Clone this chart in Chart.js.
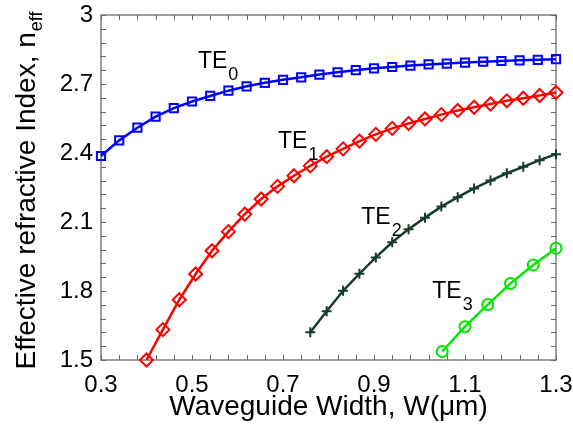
<!DOCTYPE html>
<html lang="en">
<head>
    <meta charset="UTF-8">
    <title>Effective refractive index vs waveguide width</title>
    <script src="https://cdn.jsdelivr.net/npm/chart.js"></script>
    <style>
        html, body { margin: 0; padding: 0; background: #fff; }
        #wrap { width: 573px; height: 441px; position: relative; }
    </style>
</head>
<body>
    <div id="wrap"><canvas id="neffChart" width="573" height="441"></canvas></div>
    <script>
        // values
        const te0W = [0.30, 0.34, 0.38, 0.42, 0.46, 0.50, 0.54, 0.58, 0.62, 0.66, 0.70, 0.74, 0.78,
                      0.82, 0.86, 0.90, 0.94, 0.98, 1.02, 1.06, 1.10, 1.14, 1.18, 1.22, 1.26, 1.30];
        const te0N = [2.387, 2.455, 2.510, 2.558, 2.595, 2.624, 2.648, 2.671, 2.690, 2.705, 2.718, 2.729, 2.741,
                      2.751, 2.760, 2.768, 2.774, 2.780, 2.785, 2.789, 2.793, 2.797, 2.800, 2.803, 2.805, 2.808];

        const te1W = [0.400, 0.436, 0.472, 0.508, 0.544, 0.580, 0.616, 0.652, 0.688, 0.724, 0.760, 0.796, 0.832,
                      0.868, 0.904, 0.940, 0.976, 1.012, 1.048, 1.084, 1.120, 1.156, 1.192, 1.228, 1.264, 1.300];
        const te1N = [1.500, 1.632, 1.762, 1.874, 1.975, 2.058, 2.134, 2.200, 2.255, 2.301, 2.344, 2.384, 2.418,
                      2.452, 2.481, 2.507, 2.528, 2.548, 2.567, 2.585, 2.599, 2.613, 2.627, 2.638, 2.650, 2.663];

        const te2W = [0.760, 0.796, 0.832, 0.868, 0.904, 0.940, 0.976, 1.012, 1.048, 1.084, 1.120, 1.156,
                      1.192, 1.228, 1.264, 1.300];
        const te2N = [1.621, 1.712, 1.801, 1.875, 1.946, 2.012, 2.069, 2.119, 2.167, 2.208, 2.246, 2.280,
                      2.312, 2.340, 2.369, 2.395];

        const te3W = [1.05, 1.10, 1.15, 1.20, 1.25, 1.30];
        const te3N = [1.537, 1.645, 1.741, 1.833, 1.913, 1.986];

        const xTicks = [0.3, 0.5, 0.7, 0.9, 1.1, 1.3];
        const xTickLabels = ['0.3', '0.5', '0.7', '0.9', '1.1', '1.3'];
        const yTicks = [1.5, 1.8, 2.1, 2.4, 2.7, 3.0];
        const yTickLabels = ['1.5', '1.8', '2.1', '2.4', '2.7', '3'];
        const xMinorStep = 0.04;
        const yMinorStep = 0.06;

        const modeLabels = [
            { text: 'TE', sub: '0', x: 0.513, y: 2.768 },
            { text: 'TE', sub: '1', x: 0.689, y: 2.421 },
            { text: 'TE', sub: '2', x: 0.872, y: 2.092 },
            { text: 'TE', sub: '3', x: 1.028, y: 1.771 }
        ];

        const FONT = "'Liberation Sans', Arial, sans-serif";

        function pts(xs, ys) { return xs.map((x, i) => ({ x: x, y: ys[i] })); }

        // frame with inward ticks on all four sides, labels, axis titles
        const framePlugin = {
            id: 'frame',
            beforeDatasetsDraw(chart) {
                const { ctx, chartArea: a, scales: { x, y } } = chart;
                ctx.save();
                ctx.strokeStyle = '#808080';
                ctx.lineWidth = 1.5;
                ctx.strokeRect(a.left, a.top, a.right - a.left, a.bottom - a.top);
                ctx.lineWidth = 1;
                ctx.strokeStyle = '#6a6a6a';
                ctx.beginPath();
                for (let v = x.min; v <= x.max + 1e-9; v += xMinorStep) {
                    const px = Math.round(x.getPixelForValue(v)) + 0.5;
                    ctx.moveTo(px, a.bottom); ctx.lineTo(px, a.bottom - 5);
                    ctx.moveTo(px, a.top); ctx.lineTo(px, a.top + 5);
                }
                for (let v = y.min; v <= y.max + 1e-9; v += yMinorStep) {
                    const py = Math.round(y.getPixelForValue(v)) + 0.5;
                    ctx.moveTo(a.left, py); ctx.lineTo(a.left + 5, py);
                    ctx.moveTo(a.right, py); ctx.lineTo(a.right - 5, py);
                }
                ctx.stroke();
                ctx.restore();
            },
            afterDraw(chart) {
                const { ctx, chartArea: a, scales: { x, y } } = chart;
                ctx.save();
                ctx.fillStyle = '#000';
                ctx.textBaseline = 'alphabetic';
                // mode labels
                modeLabels.forEach(l => {
                    const px = x.getPixelForValue(l.x);
                    const py = y.getPixelForValue(l.y);
                    ctx.font = '23px ' + FONT;
                    ctx.textAlign = 'left';
                    ctx.fillText(l.text, px, py);
                    const w = ctx.measureText(l.text).width;
                    ctx.font = '18px ' + FONT;
                    ctx.fillText(l.sub, px + w + 1, py + 12);
                });
                // x title
                ctx.font = '28px ' + FONT;
                ctx.textAlign = 'center';
                ctx.fillText('Waveguide Width, W(\u03bcm)', (a.left + a.right) / 2, 415);
                // y title, rotated, with subscript
                const main = 'Effective refractive Index, n';
                const sub = 'eff';
                ctx.font = '28px ' + FONT;
                const wMain = ctx.measureText(main).width;
                ctx.font = '18px ' + FONT;
                const wSub = ctx.measureText(sub).width;
                const total = wMain + wSub;
                ctx.translate(35, 191);
                ctx.rotate(-Math.PI / 2);
                ctx.textAlign = 'left';
                ctx.font = '28px ' + FONT;
                ctx.fillText(main, -total / 2, 0);
                ctx.font = '18px ' + FONT;
                ctx.fillText(sub, -total / 2 + wMain + 1, 7);
                ctx.restore();
            }
        };

        const markerStyle = (color, style, radius) => ({
            borderColor: color,
            backgroundColor: color,
            pointStyle: style,
            pointRadius: radius,
            pointHoverRadius: radius,
            pointBorderColor: color,
            pointBackgroundColor: 'rgba(0,0,0,0)',
            pointBorderWidth: 2,
            borderWidth: 2.5,
            tension: 0,
            clip: false
        });

        new Chart(document.getElementById('neffChart'), {
            type: 'line',
            data: {
                datasets: [
                    Object.assign({ label: 'TE0', data: pts(te0W, te0N) }, markerStyle('#0000ff', 'rect', 5.8)),
                    Object.assign({ label: 'TE1', data: pts(te1W, te1N) }, markerStyle('#ff0000', 'rectRot', 6.5)),
                    Object.assign({ label: 'TE2', data: pts(te2W, te2N) }, markerStyle('#173d2a', 'cross', 5)),
                    Object.assign({ label: 'TE3', data: pts(te3W, te3N) }, markerStyle('#00e600', 'circle', 5.5))
                ]
            },
            options: {
                responsive: false,
                animation: false,
                events: [],
                layout: { padding: { left: 0, right: 17, top: 15, bottom: 0 } },
                plugins: { legend: { display: false }, tooltip: { enabled: false } },
                scales: {
                    x: {
                        type: 'linear',
                        min: 0.3,
                        max: 1.3,
                        grid: { display: false, drawTicks: false },
                        border: { display: false },
                        afterBuildTicks: s => { s.ticks = xTicks.map(v => ({ value: v })); },
                        afterFit: s => { s.height = 81; s.paddingLeft = 0; s.paddingRight = 0; },
                        ticks: {
                            autoSkip: false,
                            maxRotation: 0,
                            padding: 11,
                            color: '#000',
                            font: { family: FONT, size: 24 },
                            callback: (v, i) => xTickLabels[i]
                        }
                    },
                    y: {
                        type: 'linear',
                        min: 1.5,
                        max: 3.0,
                        grid: { display: false, drawTicks: false },
                        border: { display: false },
                        afterBuildTicks: s => { s.ticks = yTicks.map(v => ({ value: v })); },
                        afterFit: s => { s.width = 101; s.paddingTop = 0; s.paddingBottom = 0; },
                        ticks: {
                            autoSkip: false,
                            padding: 8,
                            color: '#000',
                            font: { family: FONT, size: 24 },
                            callback: (v, i) => yTickLabels[i]
                        }
                    }
                }
            },
            plugins: [framePlugin]
        });
    </script>
</body>
</html>
